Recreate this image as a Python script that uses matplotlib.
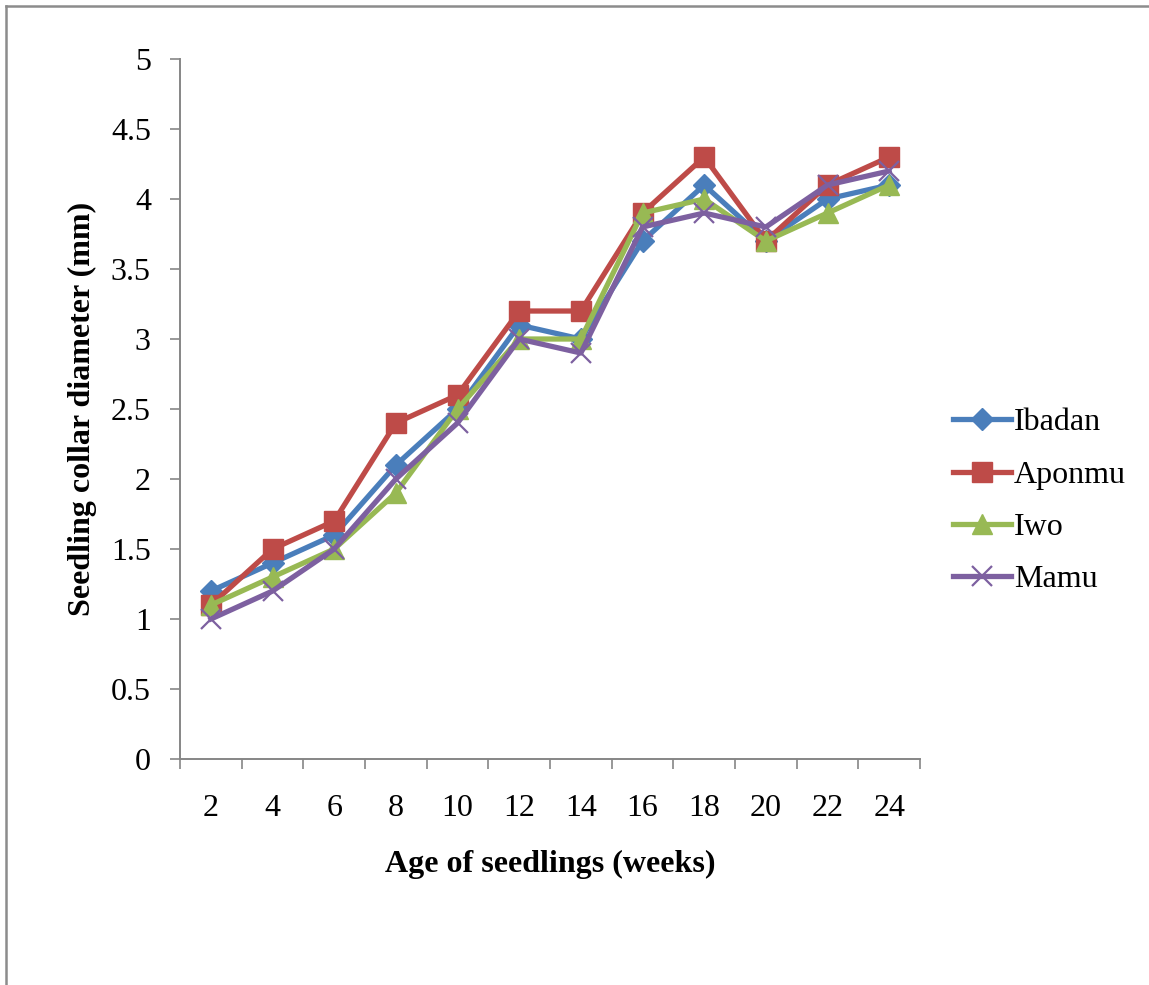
import numpy as np
import matplotlib
matplotlib.use('Agg')
from matplotlib import pyplot as plt
from matplotlib.lines import Line2D

# Seedling collar diameter (mm) by age, one series per seed source

weeks = ['2', '4', '6', '8', '10', '12', '14', '16', '18', '20', '22', '24']

ibadan = [1.2, 1.4, 1.6, 2.1, 2.5, 3.1, 3.0, 3.7, 4.1, 3.7, 4.0, 4.1]
aponmu = [1.1, 1.5, 1.7, 2.4, 2.6, 3.2, 3.2, 3.9, 4.3, 3.7, 4.1, 4.3]
iwo = [1.1, 1.3, 1.5, 1.9, 2.5, 3.0, 3.0, 3.9, 4.0, 3.7, 3.9, 4.1]
mamu = [1.0, 1.2, 1.5, 2.0, 2.4, 3.0, 2.9, 3.8, 3.9, 3.8, 4.1, 4.2]

series_names = ['Ibadan', 'Aponmu', 'Iwo', 'Mamu']

plt.rcParams['font.family'] = ['Liberation Serif', 'DejaVu Serif']
font_size = 23

fig = plt.figure(figsize=(11.49, 9.85), dpi=100)
ax = fig.add_axes([0.1567, 0.2294, 0.8007 - 0.1567, 0.9401 - 0.2294])

x_pos = np.arange(len(weeks))

styles = [
    dict(color='#4A7EBB', marker='D', markersize=11),
    dict(color='#BE4B48', marker='s', markersize=14),
    dict(color='#98B954', marker='^', markersize=15),
    dict(color='#7D60A0', marker='x', markersize=14, markeredgewidth=1.6),
]

for vals, name, st in zip([ibadan, aponmu, iwo, mamu], series_names, styles):
    ax.plot(x_pos, vals, linewidth=3.8, label=name, **st)

# Category axis: ticks between categories, labels centred on them
ax.set_xlim(-0.5, len(weeks) - 0.5)
ax.set_xticks(np.arange(-0.5, len(weeks)), labels=[])
ax.set_xticks(x_pos, labels=weeks, minor=True)
ax.tick_params(axis='x', which='major', direction='out', length=7, width=1.2, color='#868686')
ax.tick_params(axis='x', which='minor', length=0, pad=25, labelsize=font_size)

ax.set_ylim(0, 5)
ax.set_yticks(np.arange(0, 5.01, 0.5))
ax.set_yticklabels(['0', '0.5', '1', '1.5', '2', '2.5', '3', '3.5', '4', '4.5', '5'])
ax.tick_params(axis='y', direction='out', length=7, width=1.2, color='#868686', pad=14,
               labelsize=font_size)

for side in ['top', 'right']:
    ax.spines[side].set_visible(False)
for side in ['left', 'bottom']:
    ax.spines[side].set_color('#868686')
    ax.spines[side].set_linewidth(1.4)

ax.set_xlabel('Age of seedlings (weeks)', fontsize=font_size, fontweight='bold', labelpad=19.5)
ax.set_ylabel('Seedling collar diameter (mm)', fontsize=font_size, fontweight='bold', labelpad=10)

ax.legend(loc='upper left', bbox_to_anchor=(953 / 1149, 1 - 408 / 985),
          bbox_transform=fig.transFigure, frameon=False, fontsize=font_size,
          handlelength=1.8, handletextpad=0.1, labelspacing=0.72, borderaxespad=0,
          borderpad=0)

# Outer chart frame
fig.add_artist(Line2D([5.5 / 1149, 5.5 / 1149], [0, 1 - 6 / 985], transform=fig.transFigure,
                      color='#8C8C8C', linewidth=1.8))
fig.add_artist(Line2D([5.5 / 1149, 1], [1 - 6 / 985, 1 - 6 / 985], transform=fig.transFigure,
                      color='#8C8C8C', linewidth=1.8))

fig.savefig('out.png', dpi=100)
